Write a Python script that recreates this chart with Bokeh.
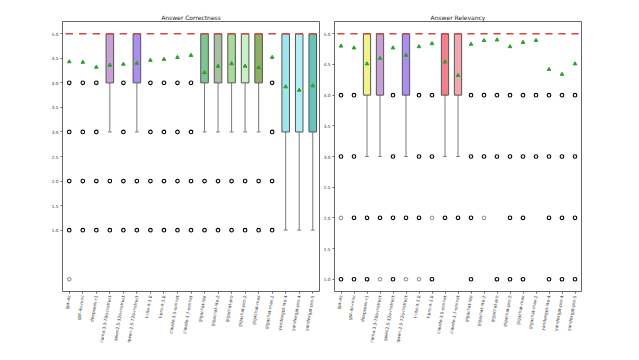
from bokeh.plotting import figure
from bokeh.layouts import row
from bokeh.models import Range1d, FixedTicker, CustomJSTickFormatter
from bokeh.embed import file_html
from bokeh.resources import INLINE
import numpy as np

cats = ["gpt-4o", "gpt-4o-mini", "deepseek-r1", "llama-3.3-70b-instruct",
        "qwen2.5-32b-instruct", "qwen-2.5-72b-instruct", "t-lite-it-1.0", "t-pro-it-1.0",
        "claude-3.5-sonnet", "claude-3.7-sonnet", "gigachat-lite", "gigachat-lite-2",
        "gigachat-pro", "gigachat-pro-2", "gigachat-max", "gigachat-max-2",
        "yandexgpt-lite-4", "yandexgpt-pro-4", "yandexgpt-pro-5"]

# Answer Correctness
corr_q1 = [5, 5, 5, 4, 5, 4, 5, 5, 5, 5, 4, 4, 4, 4, 4, 5, 3, 3, 3]
corr_med = [5] * 19
corr_q3 = [5] * 19
corr_wlo = [5, 5, 5, 3, 5, 3, 5, 5, 5, 5, 3, 3, 3, 3, 3, 5, 1, 1, 1]
corr_mean = [4.43, 4.42, 4.32, 4.36, 4.38, 4.40, 4.46, 4.48, 4.52, 4.56,
             4.21, 4.34, 4.39, 4.34, 4.31, 4.52, 3.92, 3.85, 3.94]
corr_fliers = [[4, 3, 2, 1], [4, 3, 2, 1], [4, 3, 2, 1], [2, 1], [4, 3, 2, 1], [2, 1],
               [4, 3, 2, 1], [4, 3, 2, 1], [4, 3, 2, 1], [4, 3, 2, 1],
               [2, 1], [2, 1], [2, 1], [2, 1], [2, 1], [4, 3, 2, 1], [], [], []]
corr_fliers_rare = [[0], [], [], [], [], [], [], [], [], [], [], [], [], [], [], [], [], [], []]
corr_colors = [None, None, None, "#c9a0d6", None, "#ab8ef0", None, None, None, None,
               "#80c492", "#a9c0a2", "#a9d99b", "#c8f0c6", "#8fb062", None,
               "#a0e6ee", "#b2eef6", "#68c4ba"]

# Answer Relevancy
rel_q1 = [5, 5, 4, 4, 5, 4, 5, 5, 4, 4, 5, 5, 5, 5, 5, 5, 5, 5, 5]
rel_med = [5] * 19
rel_q3 = [5] * 19
rel_wlo = [5, 5, 3, 3, 5, 3, 5, 5, 3, 3, 5, 5, 5, 5, 5, 5, 5, 5, 5]
rel_mean = [4.80, 4.77, 4.51, 4.60, 4.77, 4.65, 4.79, 4.84, 4.54, 4.32,
            4.83, 4.89, 4.90, 4.79, 4.86, 4.89, 4.42, 4.34, 4.51]
rel_fliers = [[4, 3, 1], [4, 3, 2, 1], [2, 1], [2], [4, 3, 2, 1], [2], [4, 3, 2], [4, 3, 1],
              [2], [2], [4, 3, 2, 1], [4, 3], [4, 3, 1], [4, 3, 2, 1], [4, 3, 2, 1], [4, 3],
              [4, 3, 2, 1], [4, 3, 2, 1], [4, 3, 2, 1]]
rel_fliers_rare = [[2], [], [], [1], [], [1], [1], [2], [], [], [], [2], [], [], [], [], [], [], []]
rel_colors = [None, None, "#f2f28c", "#c9a0d6", None, "#ab8ef0", None, None,
              "#f2808c", "#f2a8b2", None, None, None, None, None, None, None, None, None]

yticks = [1.0, 1.5, 2.0, 2.5, 3.0, 3.5, 4.0, 4.5, 5.0]

FONT = "DejaVu Sans"
HW = 0.28


def panel(title, q1, med, q3, wlo, mean, fliers, rare, colors, yr, width, bl, br):
    p = figure(width=width, height=346, output_backend="svg", toolbar_location=None,
               x_range=Range1d(0.5, len(cats) + 0.5), y_range=Range1d(*yr),
               min_border_left=bl, min_border_right=br, min_border_top=21,
               min_border_bottom=20)
    p.title.text = title
    p.title.align = "center"
    p.title.text_font = FONT
    p.title.text_font_style = "normal"
    p.title.text_font_size = "6px"
    p.title.text_color = "#222222"
    p.title.standoff = 2
    p.title.offset = 0
    p.xgrid.visible = False
    p.ygrid.visible = False
    p.outline_line_color = "#666666"
    p.outline_line_width = 1

    x = np.arange(1, len(cats) + 1)
    q1a, q3a, meda, wloa = map(np.array, (q1, q3, med, wlo))

    # whiskers and caps
    wm = wloa < q1a
    p.segment(x[wm], q1a[wm], x[wm], wloa[wm], line_color="#7a7a7a", line_width=1)
    p.segment(x[wm] - HW / 2, wloa[wm], x[wm] + HW / 2, wloa[wm], line_color="#7a7a7a", line_width=1)

    # boxes
    for i, c in enumerate(colors):
        if c is not None and q3a[i] > q1a[i]:
            p.quad(left=x[i] - HW, right=x[i] + HW, bottom=q1a[i], top=q3a[i],
                   fill_color=c, line_color="#555555", line_width=1)

    # medians
    p.segment(x - HW, meda, x + HW, meda, line_color="#d9473a", line_width=1.6)

    # fliers
    fx = [x[i] for i, fl in enumerate(fliers) for _ in fl]
    fy = [v for fl in fliers for v in fl]
    p.scatter(fx, fy, marker="circle", size=3.6, fill_color=None, line_color="black", line_width=1.1)
    rx = [x[i] for i, fl in enumerate(rare) for _ in fl]
    ry = [v for fl in rare for v in fl]
    p.scatter(rx, ry, marker="circle", size=3.6, fill_color=None, line_color="black",
              line_width=1.0, line_alpha=0.45)

    # means
    p.scatter(x, mean, marker="triangle", size=3.6, fill_color="#2ca02c", line_color="#2ca02c")

    p.xaxis.ticker = FixedTicker(ticks=list(x))
    p.xaxis.major_label_overrides = {int(i): c for i, c in zip(x, cats)}
    p.xaxis.major_label_orientation = np.deg2rad(80)
    p.yaxis.ticker = FixedTicker(ticks=yticks)
    for ax in (p.xaxis, p.yaxis):
        ax.axis_line_color = None
        ax.major_tick_out = 2
        ax.major_tick_in = 0
        ax.minor_tick_out = 0
        ax.minor_tick_in = 0
        ax.major_tick_line_color = "#666666"
        ax.major_label_standoff = 2
        ax.major_label_text_font = FONT
        ax.major_label_text_font_size = "4.3px"
        ax.major_label_text_color = "#333333"
    p.yaxis.formatter = CustomJSTickFormatter(code="return tick.toFixed(1);")
    return p


p1 = panel("Answer Correctness", corr_q1, corr_med, corr_q3, corr_wlo, corr_mean,
           corr_fliers, corr_fliers_rare, corr_colors, (-0.25, 5.25), 320, 62, 1)
p2 = panel("Answer Relevancy", rel_q1, rel_med, rel_q3, rel_wlo, rel_mean,
           rel_fliers, rel_fliers_rare, rel_colors, (0.8, 5.2), 303, 12, 42)

layout = row(p1, p2)
open("out.html", "w").write(file_html(layout, INLINE))
